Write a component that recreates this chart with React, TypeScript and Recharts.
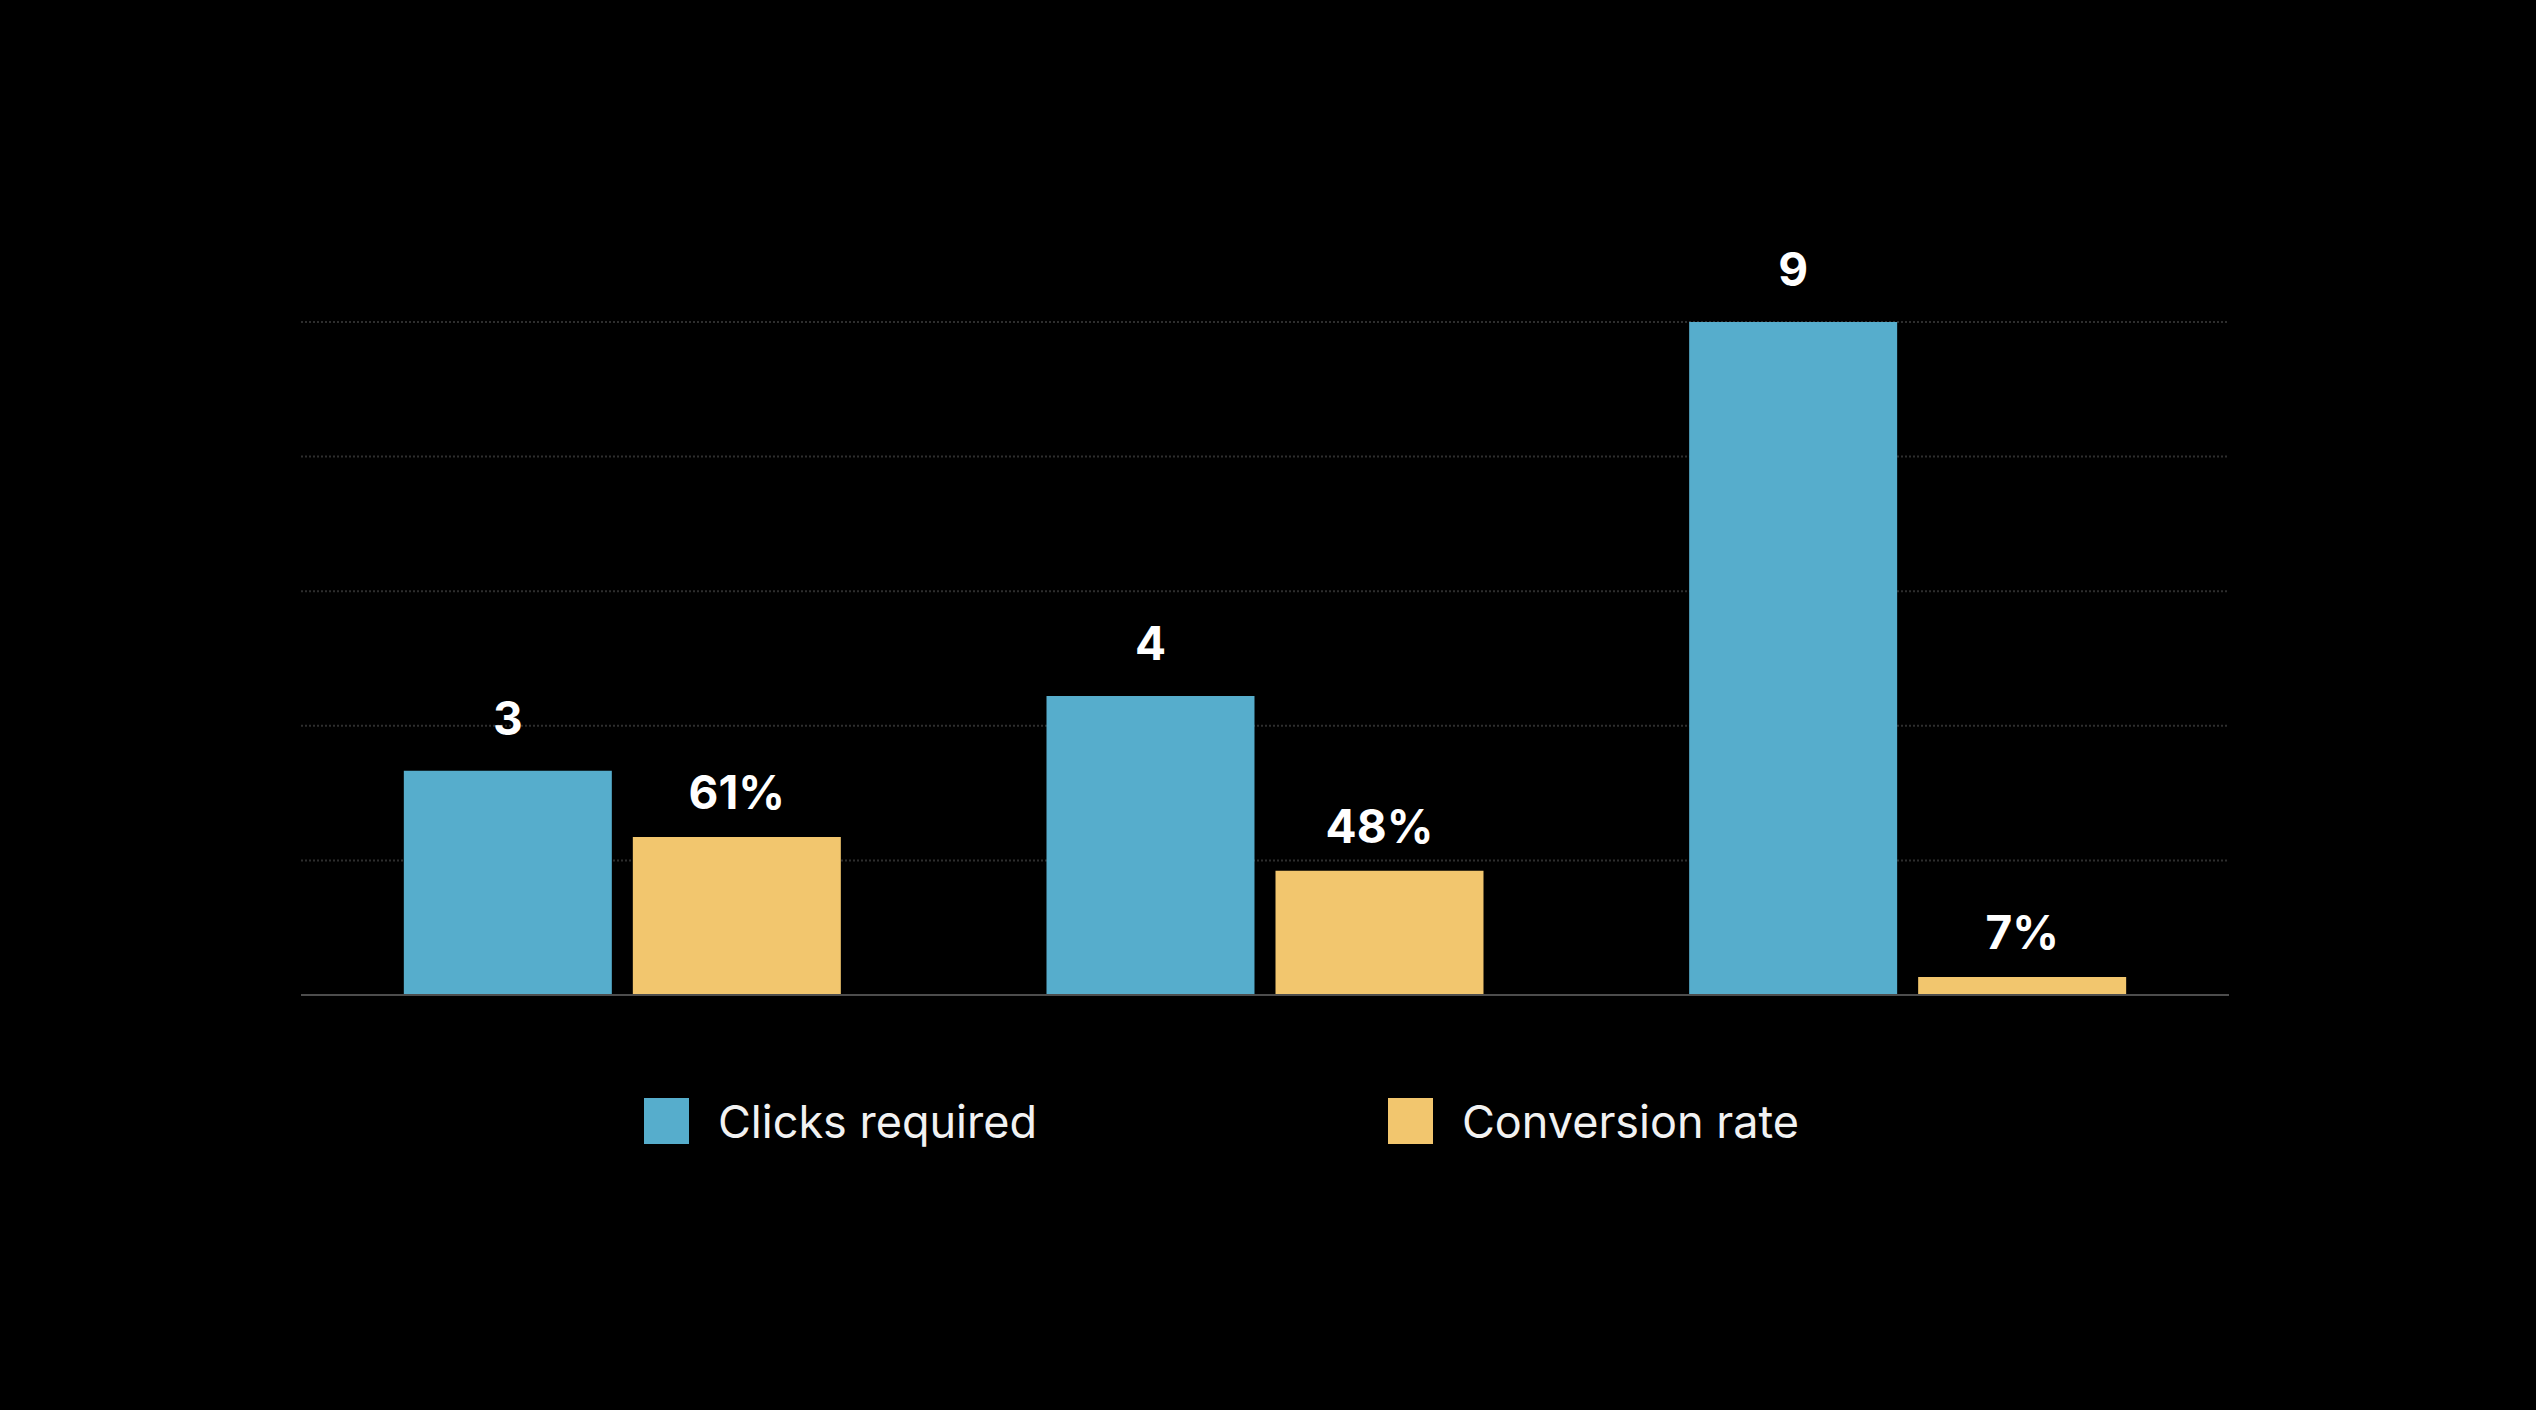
import { BarChart, Bar, XAxis, YAxis, CartesianGrid, LabelList } from 'recharts';

const categories = ['Flow A', 'Flow B', 'Flow C'];
const clicksRequired = [3, 4, 9];
const conversionRate = [61, 48, 7];
const clickTicks = [0, 1.8, 3.6, 5.4, 7.2, 9];

const seriesNames = { clicks: 'Clicks required', rate: 'Conversion rate' };
const colors = { clicks: '#56adcc', rate: '#f2c66e' };

const data = categories.map((name, i) => ({
  name,
  clicks: clicksRequired[i],
  rate: conversionRate[i],
}));

const labelStyle = { fill: '#ffffff', fontSize: 46, fontWeight: 700, fontFamily: 'Inter' };

function LegendRow() {
  const items = [
    { key: 'clicks', left: 644 },
    { key: 'rate', left: 1388 },
  ] as const;
  return (
    <>
      {items.map((it) => (
        <div
          key={it.key}
          style={{
            position: 'absolute',
            left: it.left,
            top: 1098,
            height: 46,
            display: 'flex',
            alignItems: 'center',
            fontFamily: 'Inter',
            fontSize: 45,
            color: '#f2f2f2',
            whiteSpace: 'nowrap',
          }}
        >
          <span style={{ width: 45, height: 46, background: colors[it.key], marginRight: 29, display: 'inline-block' }} />
          {seriesNames[it.key]}
        </div>
      ))}
    </>
  );
}

export default function App() {
  return (
    <div style={{ position: 'fixed', left: 0, top: 0, width: 2536, height: 1410, background: '#000', overflow: 'hidden' }}>
      <BarChart
        width={2536}
        height={1410}
        data={data}
        margin={{ top: 322, right: 307, bottom: 413, left: 301 }}
        barCategoryGap="16%"
        barGap={21}
      >
        <CartesianGrid yAxisId="clicks" vertical={false} stroke="#2e2e2e" strokeWidth={2} strokeDasharray="2 2" />
        <XAxis dataKey="name" tick={false} tickLine={false} height={2} axisLine={{ stroke: '#4d4d4d', strokeWidth: 2 }} />
        <YAxis yAxisId="clicks" domain={[0, 9]} ticks={clickTicks} hide />
        <YAxis yAxisId="rate" orientation="right" domain={[0, 260]} hide />
        <Bar yAxisId="clicks" dataKey="clicks" name={seriesNames.clicks} fill={colors.clicks} isAnimationActive={false}>
          <LabelList dataKey="clicks" position="top" offset={36} style={labelStyle} />
        </Bar>
        <Bar yAxisId="rate" dataKey="rate" name={seriesNames.rate} fill={colors.rate} isAnimationActive={false}>
          <LabelList dataKey="rate" position="top" offset={28} formatter={(v: any) => `${v}%`} style={labelStyle} />
        </Bar>
      </BarChart>
      <LegendRow />
    </div>
  );
}
